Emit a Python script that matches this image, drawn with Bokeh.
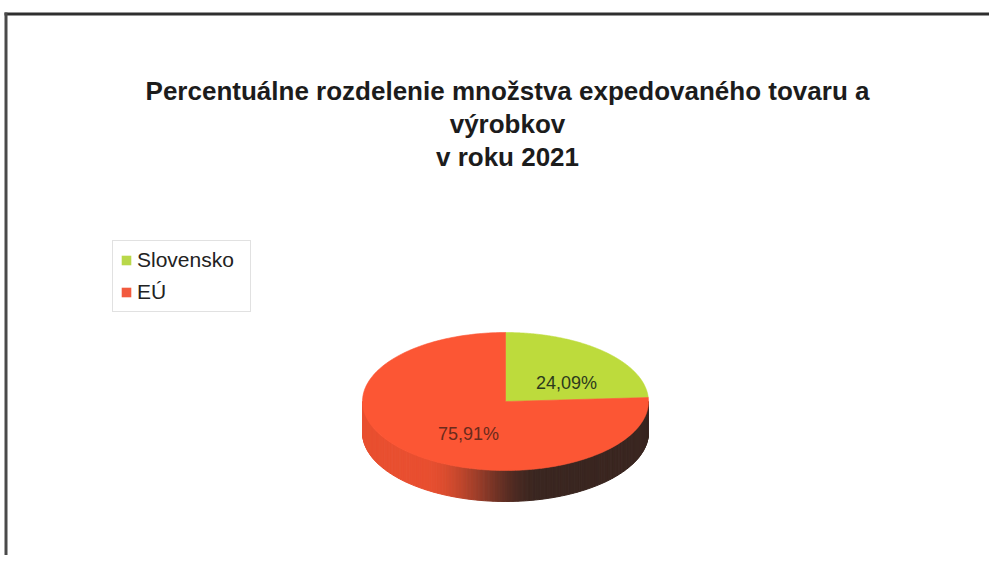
import numpy as np
from bokeh.plotting import figure
from bokeh.models import ColumnDataSource, Range1d, Legend, LegendItem
from bokeh.core.properties import value
from bokeh.embed import file_html
from bokeh.resources import INLINE

# ---- data ----
categories = ["Slovensko", "EÚ"]
shares = [24.09, 75.91]
slice_colors = ["#bddb3c", "#fc5634"]
legend_colors = ["#b9d84a", "#f25a3e"]
label_colors = ["#2c3a1c", "#6a2a1c"]
title_lines = ["Percentuálne rozdelenie množstva expedovaného tovaru a",
               "výrobkov",
               "v roku 2021"]

# ---- layout (picture pixel coordinates) ----
W, H = 989, 555
cx, cy, rx, ry, depth = 505, 401, 143, 69, 31

p = figure(width=W, height=H, x_range=Range1d(0, W), y_range=Range1d(H, 0),
           output_backend="svg", toolbar_location=None, min_border=0)
p.axis.visible = False
p.grid.visible = False
p.outline_line_color = None
p.background_fill_color = "white"
p.border_fill_color = "white"

# frame lines of the scanned chart area
p.segment(x0=[4, 5.5], y0=[13.5, 12], x1=[W, 5.5], y1=[13.5, H],
          line_color=["#2e2e2e", "#4a4a4a"], line_width=3)

# ---- title ----
tsrc = ColumnDataSource(dict(x=[507] * len(title_lines), y=[90, 123, 156], t=title_lines))
p.text(x="x", y="y", text="t", source=tsrc, text_align="center", text_baseline="middle",
       text_font=value("Liberation Sans"), text_font_style="bold", text_font_size="26px",
       text_color="#1c1c1c")

# ---- pie geometry from data ----
frac = np.array(shares) / sum(shares)
ends = 90 - 360 * np.cumsum(frac)
starts = np.concatenate([[90.0], ends[:-1]])


def pt(th_deg, dy=0.0):
    r = np.radians(th_deg)
    return cx + rx * np.cos(r), cy - ry * np.sin(r) + dy


def hex2rgb(h):
    h = h.lstrip("#")
    return np.array([int(h[i:i + 2], 16) for i in (0, 2, 4)], dtype=float)


def rgb2hex(c):
    c = np.clip(np.round(c), 0, 255).astype(int)
    return "#%02x%02x%02x" % tuple(c)


def slice_of(theta):
    for i, (s, e) in enumerate(zip(starts, ends)):
        t = theta
        while t > s:
            t -= 360
        while t < e:
            t += 360
        if e <= t <= s:
            return i
    return len(categories) - 1


dark = np.array([58, 38, 32], dtype=float)
side_xs, side_ys, side_cols = [], [], []
step = 1.0
for th in np.arange(180.0, 360.0, step):
    th2 = th + step
    x1, y1 = pt(th)
    x2, y2 = pt(th2)
    mid = th + step / 2
    base = hex2rgb(slice_colors[slice_of(mid)]) * 0.92
    t = (1 + np.cos(np.radians(mid))) / 2
    s = np.clip((t - 0.22) / 0.4, 0, 1)
    s = s * s * (3 - 2 * s)
    col = base * (1 - s) + dark * s
    side_xs.append([x1, x2, x2, x1])
    side_ys.append([y1, y2, y2 + depth, y1 + depth])
    side_cols.append(rgb2hex(col))
p.patches(xs="xs", ys="ys", fill_color="c", line_color="c", line_width=1,
          source=ColumnDataSource(dict(xs=side_xs, ys=side_ys, c=side_cols)))

top_xs, top_ys = [], []
for s, e in zip(starts, ends):
    th = np.linspace(s, e, 200)
    xx, yy = pt(th)
    top_xs.append([cx] + list(xx))
    top_ys.append([cy] + list(yy))
p.patches(xs="xs", ys="ys", fill_color="c", line_color="c", line_width=0.6,
          source=ColumnDataSource(dict(xs=top_xs, ys=top_ys, c=slice_colors)))

# ---- data labels ----
mids = (starts + ends) / 2
lx = cx + 0.5 * rx * np.cos(np.radians(mids))
ly = cy - 0.5 * ry * np.sin(np.radians(mids))
labels = [("%.2f" % v).replace(".", ",") + "%" for v in shares]
p.text(x="x", y="y", text="t", text_color="c",
       source=ColumnDataSource(dict(x=list(lx), y=list(ly), t=labels, c=label_colors)),
       text_align="center", text_baseline="middle", x_offset=12, y_offset=7,
       text_font=value("Liberation Sans"), text_font_size="18px")

# ---- legend ----
items = []
for cat, col in zip(categories, legend_colors):
    r = p.quad(left=[np.nan], right=[np.nan], top=[np.nan], bottom=[np.nan],
               fill_color=col, line_color=None)
    items.append(LegendItem(label=cat, renderers=[r]))
legend = Legend(items=items, location=(112, 243), orientation="vertical",
                label_text_font="Liberation Sans", label_text_font_size="21px",
                label_text_color="#222222",
                glyph_width=12, glyph_height=12, label_standoff=5, label_width=106,
                label_height=20, spacing=8, padding=7, margin=0,
                border_line_color="#c4c4c4", border_line_width=1,
                background_fill_color="white", background_fill_alpha=1.0)
p.add_layout(legend)

open("out.html", "w").write(file_html(p, INLINE))
